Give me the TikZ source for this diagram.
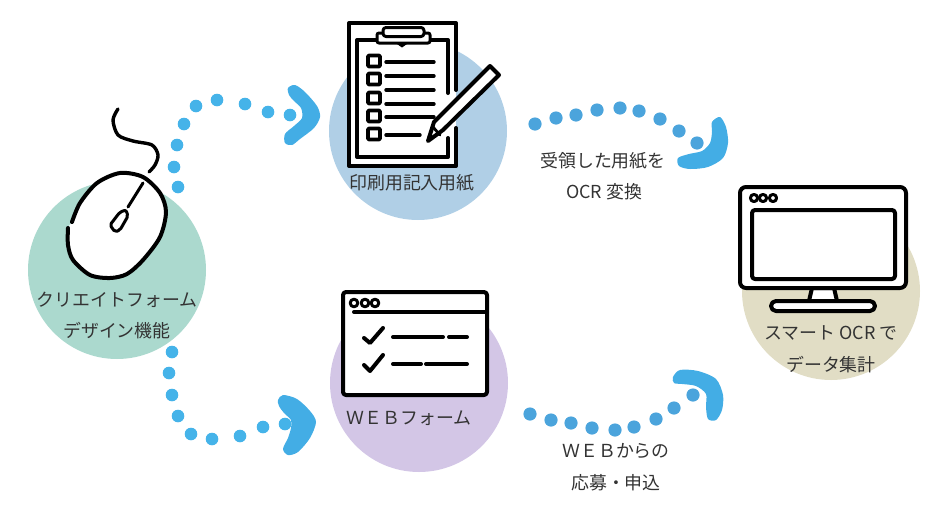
\documentclass[tikz,border=0pt]{standalone}
\usepackage{fontspec}
\setmainfont{Noto Sans CJK JP}
\usetikzlibrary{positioning}
\definecolor{bggreen}{HTML}{ABD9CE}
\definecolor{bgblue}{HTML}{B0CFE6}
\definecolor{bgpurple}{HTML}{D3C6E6}
\definecolor{bgkhaki}{HTML}{E1DDC5}
\definecolor{dotleft}{HTML}{45B3E9}
\definecolor{dotright}{HTML}{4BA4DC}
\definecolor{head}{HTML}{43ADE5}
\definecolor{txt}{HTML}{333333}
\tikzset{
    disc/.style={circle,inner sep=0pt,minimum size=178pt},
    lbl/.style={text=txt,inner sep=0pt,font=\fontsize{17.9}{20}\selectfont},
    ink/.style={line width=4pt,line cap=round,line join=round},
    thinink/.style={line width=3.4pt,line cap=round,line join=round},
}
\begin{document}
\begin{tikzpicture}[x=1pt,y=-1pt]
        \useasboundingbox (0,0) rectangle (946,512);

        % Discs
        \node[disc,fill=bggreen] (crea) at (117,270) {};
        \node[disc,fill=bgblue] (paper) at (418,131) {};
        \node[disc,fill=bgpurple] (web) at (419,383) {};
        \node[disc,fill=bgkhaki] (smart) at (831,291) {};

        % Dots
        \foreach \x/\y in {290/115,268/112,245/104,217/100,196/106,184/124,177/145,174/167,178/187,
            172/352,169/373,172/395,178/416,191/434,212/439,240/436,263/427,285/424}{
            \fill[dotleft] (\x,\y) circle (6.3pt);
        }
        \foreach \x/\y in {535/124,556/118,576/115,597/110,620/108,639/111,660/119,679/131,697/143,
            530/414,551/420,571/423,592/428,615/430,634/427,656/419,674/408,693/395}{
            \fill[dotright] (\x,\y) circle (6.6pt);
        }

        % Arrow heads
        \fill[head] plot[smooth cycle,tension=0.5] coordinates {(288,88) (295,85) (305,92) (317,106) (320,117) (314,128) (300,139) (292,145) (285,143) (285,134) (294,126) (302,118) (301,108) (294,101) (289,95)};
        \fill[head] plot[smooth cycle,tension=0.5] coordinates {(278,400) (283,395) (297,399) (310,411) (316,422) (310,438) (298,452) (288,455) (283,449) (288,438) (291,428) (291,420) (284,413) (279,406)};
        \fill[head] plot[smooth cycle,tension=0.5] coordinates {(712,122) (720,117) (726,127) (728,143) (723,158) (708,167) (690,169) (679,166) (678,158) (689,154) (702,151) (710,143) (712,132)};
        \fill[head] plot[smooth cycle,tension=0.5] coordinates {(673,377) (680,370) (698,371) (716,379) (723,395) (722,410) (716,420) (708,419) (706,407) (706,394) (696,386) (682,384) (674,383)};

        % Mouse
        \begin{scope}
            \fill[white] plot[smooth cycle] coordinates {(72,222) (80,203) (97,183) (120,173) (143,177) (160,193) (166,212) (160,237) (143,260) (127,274) (110,278) (90,275) (73,260) (68,245) (68,228)};
            \draw[ink] plot[smooth] coordinates {(72,222) (80,203) (97,183) (120,173) (143,177) (160,193) (166,212) (160,237) (143,260) (127,274) (110,278) (90,275) (73,260) (68,245) (68,228)};
            \draw[ink,line width=3.4pt] plot[smooth] coordinates {(118,109) (113,120) (118,135) (133,141) (152,145) (158,155) (155,165) (149,172)};
            \draw[ink,line width=3pt] (143,183)--(128,207);
            \draw[ink,line width=3pt,rounded corners=2pt] (126,210)--(128,216)--(120,230)--(115,232)--(110,225)--(120,212)--cycle;
        \end{scope}

        % Clipboard
        \begin{scope}
            \fill[white] (349,23) rectangle (456,166);
            \draw[ink] (456,90)--(456,23)--(349,23)--(349,166)--(456,166)--(456,128);
            \draw[ink] (448,93)--(448,40)--(357,40)--(357,157)--(448,157)--(448,138);

            \draw[ink,line width=3pt,fill=white,rounded corners=2pt] (377,33) rectangle (430,43);
            \draw[ink,line width=3pt,fill=white,rounded corners=3pt] (383,27.5) rectangle (424,36.5);
            \fill (397,44)--(407,44)--(402,47.5)--cycle;

            \foreach \y in {61,79,98,116,134}{
                \draw[ink,line width=3.8pt,rounded corners=1pt] (368,\y-5.5) rectangle (380,\y+5.5);
            }
            \foreach \y in {62,76,90,104,117}{
                \draw[thinink] (386,\y)--(434,\y);
            }
            \draw[thinink] (386,135)--(420,135);

            \draw[ink,fill=white] (490,66)--(499,75)--(443,130)--(428,141)--(434,122)--cycle;
            \draw[thinink,line width=2.8pt] (433,127)--(440,135);
        \end{scope}

        % Form window
        \begin{scope}
            \draw[ink,fill=white,rounded corners=3pt] (343,292) rectangle (487,395);
            \draw[ink] (354,312)--(487,312);
            \foreach \x in {354,365,375}{
                \draw[thinink,line width=3pt,fill=white] (\x,303) circle (3.8pt);
            }
            \draw[ink] (364,338)--(370,343)--(383,328);
            \draw[ink] (364,365)--(370,371)--(383,355);
            \draw[ink] (393,337)--(443,337);
            \draw[ink] (449,337)--(467,337);
            \draw[ink] (393,364)--(421,364);
            \draw[ink] (426,364)--(467,364);
        \end{scope}

        % Monitor
        \begin{scope}
            \draw[ink,fill=white] (812,288)--(809,301)--(837,301)--(834,288)--cycle;
            \draw[ink,fill=white,rounded corners=5pt] (771,301) rectangle (875,311);
            \draw[ink,fill=white,rounded corners=6pt] (740,187) rectangle (906,288);
            \draw[ink,rounded corners=3pt] (752,210) rectangle (895,279);
            \foreach \x in {754,763,773}{
                \draw[thinink,line width=3pt,fill=white] (\x,198) circle (3.6pt);
            }
        \end{scope}

        % Texts
        \node[lbl] (creaone) at (117,300) {クリエイトフォーム};
        \node[lbl] (creatwo) at (117,331) {デザイン機能};
        \node[lbl] (paperone) at (412,183) {印刷用記入用紙};
        \node[lbl] (webone) at (409,418) {ＷＥＢフォーム};
        \node[lbl] (ocrone) at (603,161) {受領した用紙を};
        \node[lbl] (ocrtwo) at (604,192) {OCR 変換};
        \node[lbl] (sendone) at (616,451) {ＷＥＢからの};
        \node[lbl] (sendtwo) at (616,483) {応募・申込};
        \node[lbl] (smartone) at (831,333) {スマート OCR で};
        \node[lbl] (smarttwo) at (831,365) {データ集計};
    \end{tikzpicture}
\end{document}
